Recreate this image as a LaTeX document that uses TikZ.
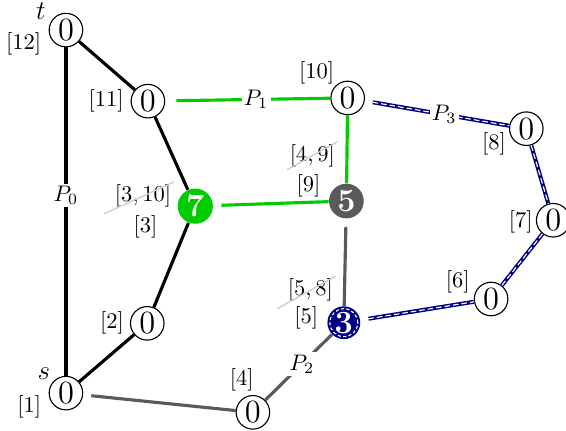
\documentclass[tikz,border=0pt]{standalone}
\usepackage{amsmath,amssymb}
\usepackage{xcolor}
\usepackage{tikz}
\usetikzlibrary{
  arrows.meta,
  positioning,
  calc
}
\definecolor{pathgreen}{RGB}{0,204,0}
\definecolor{pathgray}{RGB}{90,90,90}
\definecolor{pathnavy}{RGB}{0,0,128}
\definecolor{strikegray}{RGB}{205,205,205}

\begin{document}
\begin{tikzpicture}[
  every node/.style={font=\normalsize},
  vertex/.style={circle, draw=black, fill=white, line width=0.5pt,
    inner sep=1pt, minimum size=13.8pt, font=\Large},
  hubnode/.style={circle, inner sep=1pt, minimum size=14.6pt,
    text=white, font=\Large\bfseries},
  greenhub/.style={hubnode, fill=pathgreen},
  grayhub/.style={hubnode, fill=pathgray},
  navyhub/.style={hubnode, inner sep=0pt, fill=pathnavy,
    path picture={\draw[white, line width=0.5pt, dash pattern=on 1.4pt off 1pt]
      (path picture bounding box.center) circle (6.2pt);}},
  idx/.style={inner sep=1pt, anchor=center},
  endlabel/.style={inner sep=1pt, anchor=center, font=\large},
  strike/.style={draw=strikegray, line width=0.6pt},
  plabel/.style={fill=white, inner sep=1pt, pos=0.55},
  blackpath/.style={draw=black, line width=1.4pt},
  greenpath/.style={draw=pathgreen, line width=1.4pt},
  graypath/.style={draw=pathgray, line width=1.4pt},
  navypath/.style={draw=pathnavy, line width=1.8pt,
    postaction={draw=white, line width=0.5pt, dash pattern=on 2.5pt off 1.3pt}},
  gap/.style={shorten <=3.6pt},
]
  \useasboundingbox (-1.03,-0.59) rectangle (7.81,6.14);

  % Nodes
  \node[vertex, label={[endlabel,label distance=5.3pt]139:$s$},
    label={[idx,label distance=9.8pt]201:$[1]$}] (v1) at (0,0) {0};
  \node[vertex, label={[idx,label distance=8pt]180:$[2]$}] (v2) at (1.27,1.09) {0};
  \node[greenhub, label={[idx,label distance=16pt]203:$[3]$},
    label={[idx,name=old3,label distance=15.6pt]169:$[3,10]$}] (v3) at (2.02,2.92) {7};
  \node[vertex, label={[idx,label distance=7.4pt]109:$[4]$}] (v4) at (2.92,-0.30) {0};
  \node[navyhub, label={[idx,label distance=9.4pt]172:$[5]$},
    label={[idx,name=old5,label distance=13.2pt]136:$[5,8]$}] (v5) at (4.34,1.10) {3};
  \node[vertex, label={[idx,label distance=8.9pt]153:$[6]$}] (v6) at (6.64,1.47) {0};
  \node[vertex, label={[idx,label distance=6.7pt]182:$[7]$}] (v7) at (7.61,2.70) {0};
  \node[vertex, label={[idx,label distance=8.1pt]205:$[8]$}] (v8) at (7.19,4.13) {0};
  \node[grayhub, label={[idx,label distance=10.2pt]158:$[9]$},
    label={[idx,name=old9,label distance=17.3pt]127:$[4,9]$}] (v9) at (4.38,3.00) {5};
  \node[vertex, label={[idx,label distance=10pt]141:$[10]$}] (v10) at (4.40,4.61) {0};
  \node[vertex, label={[idx,label distance=10.9pt]180:$[11]$}] (v11) at (1.28,4.56) {0};
  \node[vertex, label={[endlabel,label distance=6.2pt]143:$t$},
    label={[idx,label distance=12.1pt]198:$[12]$}] (v12) at (0,5.67) {0};

  % Crossed out indices
  \draw[strike, shorten <=-4pt] (old3.south west) -- (old3.north east);
  \draw[strike] (old9.south west) -- (old9.north east);
  \draw[strike, shorten <=-4pt] (old5.south west) -- (old5.north east);

  % Path P0
  \draw[blackpath] (v1) -- node[plabel] {$P_0$} (v12);
  \draw[blackpath] (v12) -- (v11) -- (v3) -- (v2) -- (v1);

  % Path P1
  \draw[greenpath, shorten <=5pt] (v11) -- node[plabel] {$P_1$} (v10);
  \draw[greenpath] (v10) -- (v9);
  \draw[greenpath, gap] (v3) -- (v9);

  % Path P2
  \draw[graypath, gap] (v1) -- (v4);
  \draw[graypath] (v4) -- node[plabel] {$P_2$} (v5);
  \draw[graypath, gap] (v9) -- (v5);

  % Path P3
  \draw[navypath, gap] (v10) -- node[plabel] {$P_3$} (v8);
  \draw[navypath] (v8) -- (v7);
  \draw[navypath] (v7) -- (v6);
  \draw[navypath, gap] (v5) -- (v6);
\end{tikzpicture}
\end{document}
